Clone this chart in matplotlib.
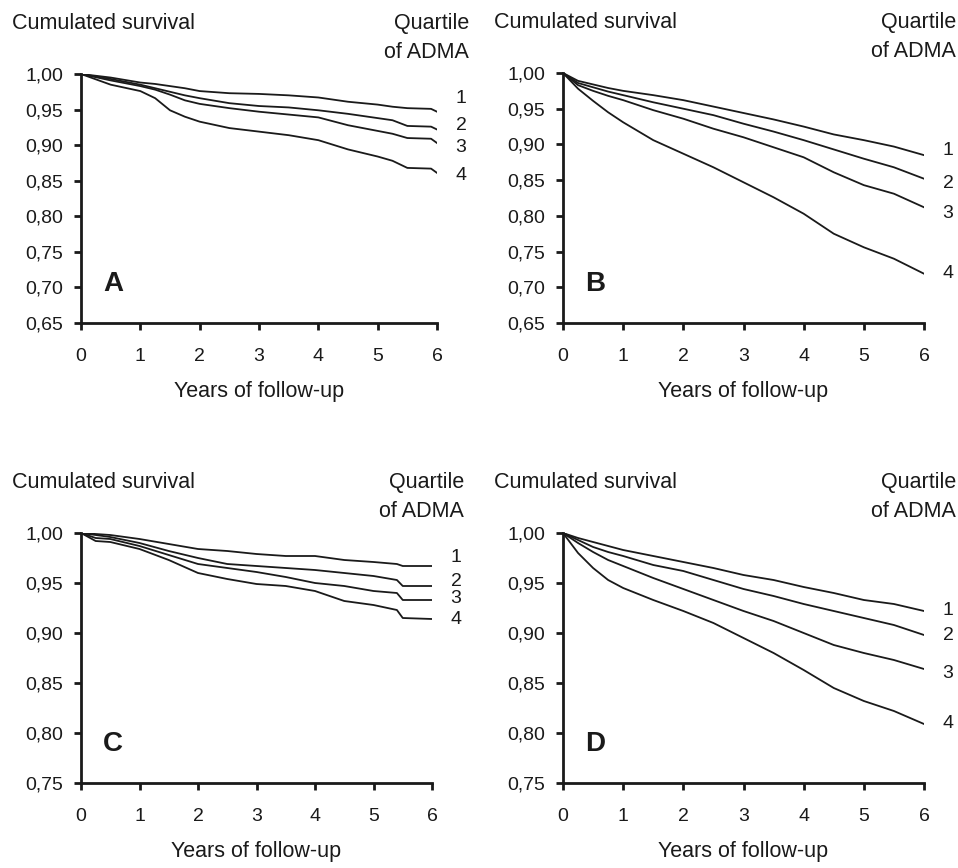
import matplotlib
matplotlib.use("Agg")
import matplotlib.pyplot as plt

plt.rcParams['font.family'] = ['Liberation Sans', 'DejaVu Sans']

# ---------------- data ----------------
quartiles = ["1", "2", "3", "4"]
x_ticks = [0, 1, 2, 3, 4, 5, 6]

# Panel A
t_A = [0, 0.5, 1, 1.25, 1.5, 1.75, 2, 2.5, 3, 3.5, 4, 4.5, 5, 5.25, 5.5, 5.9, 6]
A_q1 = [1, 0.995, 0.988, 0.986, 0.983, 0.980, 0.976, 0.973, 0.972, 0.970, 0.967, 0.961, 0.957, 0.954, 0.952, 0.951, 0.947]
A_q2 = [1, 0.993, 0.985, 0.980, 0.975, 0.970, 0.966, 0.959, 0.955, 0.953, 0.949, 0.944, 0.938, 0.935, 0.927, 0.926, 0.922]
A_q3 = [1, 0.991, 0.983, 0.978, 0.971, 0.963, 0.958, 0.952, 0.947, 0.943, 0.939, 0.928, 0.920, 0.916, 0.910, 0.909, 0.903]
A_q4 = [1, 0.985, 0.976, 0.966, 0.949, 0.940, 0.933, 0.924, 0.919, 0.914, 0.907, 0.894, 0.884, 0.878, 0.868, 0.867, 0.861]

# Panel B
t_B = [0, 0.25, 0.5, 0.75, 1, 1.5, 2, 2.5, 3, 3.5, 4, 4.5, 5, 5.5, 6]
B_q1 = [1, 0.989, 0.984, 0.979, 0.975, 0.969, 0.962, 0.953, 0.944, 0.935, 0.925, 0.914, 0.906, 0.897, 0.885]
B_q2 = [1, 0.986, 0.980, 0.974, 0.969, 0.959, 0.950, 0.941, 0.929, 0.918, 0.906, 0.893, 0.880, 0.868, 0.852]
B_q3 = [1, 0.983, 0.975, 0.968, 0.962, 0.948, 0.936, 0.922, 0.910, 0.896, 0.882, 0.861, 0.843, 0.831, 0.812]
B_q4 = [1, 0.978, 0.961, 0.945, 0.931, 0.906, 0.887, 0.868, 0.847, 0.826, 0.803, 0.775, 0.756, 0.740, 0.719]

# Panel C
t_C = [0, 0.25, 0.5, 1, 1.5, 2, 2.5, 3, 3.5, 4, 4.5, 5, 5.4, 5.5, 6]
C_q1 = [1, 0.999, 0.998, 0.994, 0.989, 0.984, 0.982, 0.979, 0.977, 0.977, 0.973, 0.971, 0.969, 0.967, 0.967]
C_q2 = [1, 0.998, 0.996, 0.990, 0.982, 0.975, 0.969, 0.967, 0.965, 0.963, 0.960, 0.957, 0.953, 0.947, 0.947]
C_q3 = [1, 0.995, 0.994, 0.987, 0.978, 0.969, 0.965, 0.961, 0.956, 0.950, 0.947, 0.942, 0.940, 0.933, 0.933]
C_q4 = [1, 0.992, 0.991, 0.984, 0.973, 0.960, 0.954, 0.949, 0.947, 0.942, 0.932, 0.928, 0.923, 0.915, 0.914]

# Panel D
t_D = [0, 0.25, 0.5, 0.75, 1, 1.5, 2, 2.5, 3, 3.5, 4, 4.5, 5, 5.5, 6]
D_q1 = [1, 0.995, 0.991, 0.987, 0.983, 0.977, 0.971, 0.965, 0.958, 0.953, 0.946, 0.940, 0.933, 0.929, 0.922]
D_q2 = [1, 0.993, 0.986, 0.981, 0.977, 0.968, 0.962, 0.953, 0.944, 0.937, 0.929, 0.922, 0.915, 0.908, 0.898]
D_q3 = [1, 0.990, 0.981, 0.973, 0.967, 0.955, 0.944, 0.933, 0.922, 0.912, 0.900, 0.888, 0.880, 0.873, 0.864]
D_q4 = [1, 0.980, 0.965, 0.953, 0.945, 0.933, 0.922, 0.910, 0.895, 0.880, 0.863, 0.845, 0.832, 0.822, 0.809]

yticks_AB = [0.65, 0.70, 0.75, 0.80, 0.85, 0.90, 0.95, 1.00]
ylabels_AB = ["0,65", "0,70", "0,75", "0,80", "0,85", "0,90", "0,95", "1,00"]
yticks_CD = [0.75, 0.80, 0.85, 0.90, 0.95, 1.00]
ylabels_CD = ["0,75", "0,80", "0,85", "0,90", "0,95", "1,00"]

# ---------------- layout ----------------
W, H = 958, 868
fig = plt.figure(figsize=(W / 100, H / 100), dpi=100)
fig.patch.set_facecolor("white")

px = 0.72  # points per pixel at dpi 100
INK = "#1a1a1a"

panels = [
    dict(letter="A", t=t_A, curves=[A_q1, A_q2, A_q3, A_q4],
         yt=yticks_AB, yl=ylabels_AB, rect=(81, 74, 437, 323),
         lab_y=[0.965, 0.927, 0.897, 0.858]),
    dict(letter="B", t=t_B, curves=[B_q1, B_q2, B_q3, B_q4],
         yt=yticks_AB, yl=ylabels_AB, rect=(563, 73, 924, 323),
         lab_y=[0.892, 0.846, 0.804, 0.720]),
    dict(letter="C", t=t_C, curves=[C_q1, C_q2, C_q3, C_q4],
         yt=yticks_CD, yl=ylabels_CD, rect=(81, 533, 432, 783),
         lab_y=[0.975, 0.951, 0.934, 0.913]),
    dict(letter="D", t=t_D, curves=[D_q1, D_q2, D_q3, D_q4],
         yt=yticks_CD, yl=ylabels_CD, rect=(563, 533, 924, 783),
         lab_y=[0.922, 0.897, 0.860, 0.809]),
]

for p in panels:
    x0, y0, x1, y1 = p["rect"]
    ax = fig.add_axes([x0 / W, 1 - y1 / H, (x1 - x0) / W, (y1 - y0) / H])
    ax.set_facecolor("none")
    for ys in p["curves"]:
        ax.plot(p["t"], ys, color=INK, lw=1.3, solid_joinstyle="round")
    ax.set_xlim(0, 6)
    ax.set_ylim(p["yt"][0], p["yt"][-1])
    ax.set_xticks(x_ticks)
    ax.set_xticklabels([str(v) for v in x_ticks])
    ax.set_yticks(p["yt"])
    ax.set_yticklabels(p["yl"])
    for s in ["top", "right"]:
        ax.spines[s].set_visible(False)
    for s in ["left", "bottom"]:
        ax.spines[s].set_linewidth(2.0)
        ax.spines[s].set_color(INK)
    ax.tick_params(axis="both", direction="out", length=5, width=2.0,
                   colors=INK, labelsize=14)
    ax.tick_params(axis="y", pad=8)
    ax.tick_params(axis="x", pad=13)

    # quartile labels at right
    for q, ly in zip(quartiles, p["lab_y"]):
        ax.annotate(q, xy=(6, ly), xycoords="data", xytext=(24 * px, 0),
                    textcoords="offset points", ha="center", va="center",
                    fontsize=14, color=INK, annotation_clip=False)

    # header texts
    ax.annotate("Cumulated survival", xy=(0, 1), xycoords="axes fraction",
                xytext=(-69 * px, 45 * px), textcoords="offset points",
                ha="left", va="baseline", fontsize=15.5, color=INK)
    ax.annotate("Quartile", xy=(1, 1), xycoords="axes fraction",
                xytext=(32 * px, 45 * px), textcoords="offset points",
                ha="right", va="baseline", fontsize=15.5, color=INK)
    ax.annotate("of ADMA", xy=(1, 1), xycoords="axes fraction",
                xytext=(32 * px, 16 * px), textcoords="offset points",
                ha="right", va="baseline", fontsize=15.5, color=INK)
    ax.annotate("Years of follow-up", xy=(0.5, 0), xycoords="axes fraction",
                xytext=(0, -68 * px), textcoords="offset points",
                ha="center", va="center", fontsize=15.5, color=INK)
    ax.text(0.062, 0.104, p["letter"], transform=ax.transAxes,
            ha="left", va="bottom", fontsize=20, fontweight="bold", color=INK)

fig.savefig("out.png", dpi=100, facecolor="white")
